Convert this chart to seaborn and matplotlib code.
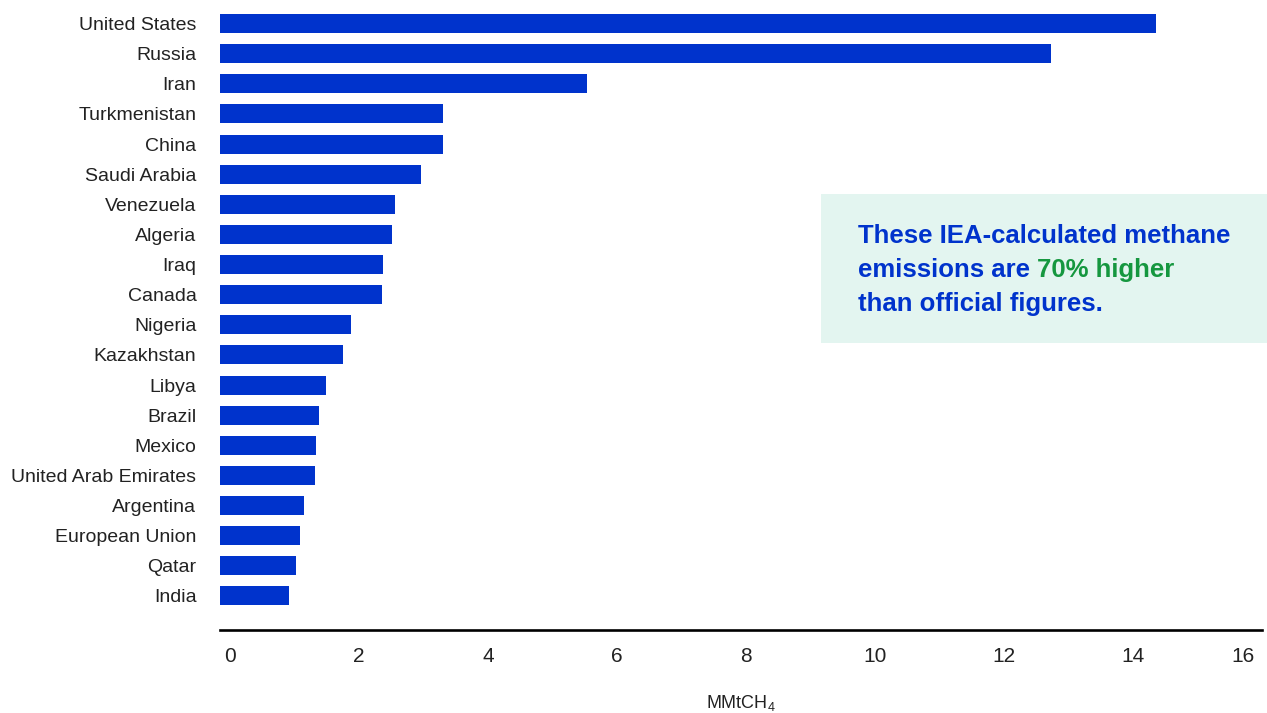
import matplotlib
matplotlib.use("Agg")
import matplotlib.pyplot as plt
import matplotlib.transforms as mtransforms
from matplotlib.patches import Rectangle
import seaborn as sns
import pandas as pd

# Methane emissions from energy by country (MMtCH4)
countries = [
    "United States", "Russia", "Iran", "Turkmenistan", "China", "Saudi Arabia",
    "Venezuela", "Algeria", "Iraq", "Canada", "Nigeria", "Kazakhstan", "Libya",
    "Brazil", "Mexico", "United Arab Emirates", "Argentina", "European Union",
    "Qatar", "India",
]
emissions = [
    14.52, 12.89, 5.69, 3.46, 3.46, 3.12,
    2.71, 2.67, 2.53, 2.51, 2.03, 1.91, 1.64,
    1.53, 1.49, 1.47, 1.30, 1.24,
    1.18, 1.07,
]
x_ticks = [0, 2, 4, 6, 8, 10, 12, 14, 16]

BAR_BLUE = "#0033cc"
TEXT_BLUE = "#0033cc"
TEXT_GREEN = "#15973f"
BOX_FILL = "#e3f5f0"

sns.set_theme(style="white")
plt.rcParams["font.family"] = ["Liberation Sans", "DejaVu Sans"]
plt.rcParams["mathtext.fontset"] = "custom"
plt.rcParams["mathtext.rm"] = "Liberation Sans"

df = pd.DataFrame({"country": countries, "emissions": emissions})

W, H, DPI = 1267, 713, 100
fig = plt.figure(figsize=(W / DPI, H / DPI), dpi=DPI)
ax = fig.add_axes([220 / W, 1 - 630 / H, (1262 - 220) / W, 630 / H])

sns.barplot(data=df, x="emissions", y="country", orient="h", color=BAR_BLUE,
            saturation=1, width=0.63, linewidth=0, edgecolor="none", ax=ax)

ax.set_xlim(0, 16.16)
ax.set_ylim(20.13, -0.78)
ax.set_xticks(x_ticks)
ax.set_xticklabels([str(t) for t in x_ticks])
ax.set_ylabel("")
ax.set_xlabel("MMtCH$_4$", fontsize=13, color="#222222")
ax.xaxis.set_label_coords(0.5, -(703 - 630) / 630)
ax.xaxis.label.set_va("center")

for side in ["top", "right", "left"]:
    ax.spines[side].set_visible(False)
ax.spines["bottom"].set_color("black")
ax.spines["bottom"].set_linewidth(1.9)

ax.tick_params(axis="y", length=0, pad=17, labelsize=14, labelcolor="#222222")
ax.tick_params(axis="x", length=0, pad=12, labelsize=15, labelcolor="#222222")
ax.grid(False)

# nudge x tick labels to the right; keep the last one inside the canvas
labels = ax.get_xticklabels()
for i, lab in enumerate(labels):
    dx = 10 if i < len(labels) - 1 else -9
    lab.set_transform(lab.get_transform() +
                      mtransforms.ScaledTranslation(dx / DPI, 0, fig.dpi_scale_trans))

# Callout box
fig.patches.append(Rectangle((821 / W, 1 - 343 / H), (W - 821) / W, (343 - 194) / H,
                             transform=fig.transFigure, facecolor=BOX_FILL,
                             edgecolor="none", zorder=0))

fs = 18.5
x0 = 858 / W
fig.text(x0, 1 - 236 / H, "These IEA-calculated methane", fontsize=fs,
         fontweight="bold", color=TEXT_BLUE, va="center", ha="left")
t2 = fig.text(x0, 1 - 270 / H, "emissions are ", fontsize=fs,
              fontweight="bold", color=TEXT_BLUE, va="center", ha="left")
fig.text(x0, 1 - 304 / H, "than official figures.", fontsize=fs,
         fontweight="bold", color=TEXT_BLUE, va="center", ha="left")

renderer = fig.canvas.get_renderer()
bb = t2.get_window_extent(renderer=renderer)
fig.text(bb.x1 / W, 1 - 270 / H, "70% higher", fontsize=fs,
         fontweight="bold", color=TEXT_GREEN, va="center", ha="left")

fig.savefig("out.png", dpi=DPI, facecolor="white")
